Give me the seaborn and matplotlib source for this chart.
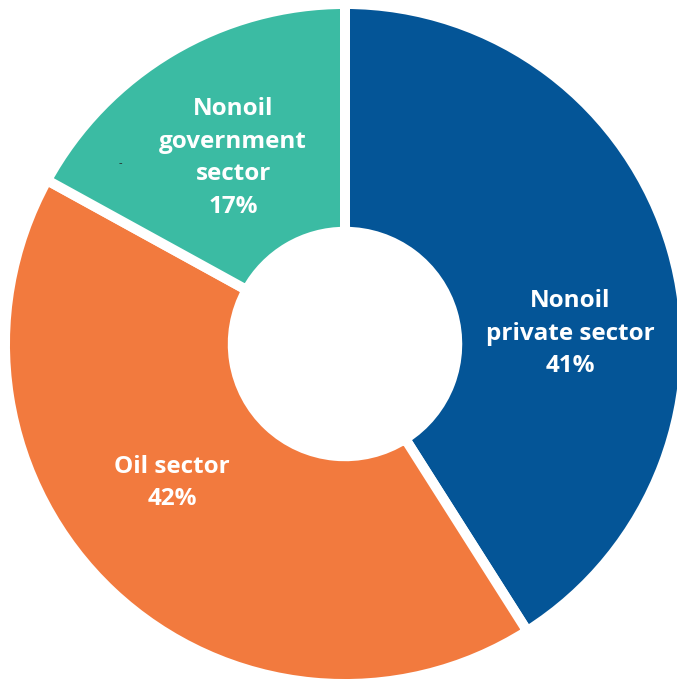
import matplotlib
matplotlib.use("Agg")
import matplotlib.pyplot as plt
import seaborn as sns

categories = ["Nonoil\nprivate sector", "Oil sector", "Nonoil\ngovernment\nsector"]
shares = [41, 42, 17]
colors = ["#045597", "#F27A3E", "#3BBBA3"]
label_pos = [(0.672, 0.030), (-0.516, -0.415), (-0.334, 0.555)]

sns.set_theme(style="white")
plt.rcParams['font.family'] = ['Open Sans', 'DejaVu Sans']

W, H = 677, 679
fig = plt.figure(figsize=(W / 100, H / 100), dpi=100)
ax = fig.add_axes([0, 0, 1, 1])
scale = 335.0
cx, cy = 345.0, 344.0

ax.pie(shares, colors=colors, startangle=90, counterclock=False,
       radius=1.015, wedgeprops=dict(width=0.68, edgecolor="white", linewidth=7.2))

for cat, val, (x, y) in zip(categories, shares, label_pos):
    ax.text(x, y, f"{cat}\n{val}%", ha="center", va="center", color="white",
            fontsize=17.5, fontweight="bold", linespacing=1.47)

ax.text(-0.672, 0.537, "-", ha="center", va="center", color="#222222", fontsize=8)

ax.set_aspect("auto")
ax.set_xlim(-cx / scale, (W - cx) / scale)
ax.set_ylim(-(H - cy) / scale, cy / scale)
ax.axis("off")
fig.savefig("out.png", dpi=100)
